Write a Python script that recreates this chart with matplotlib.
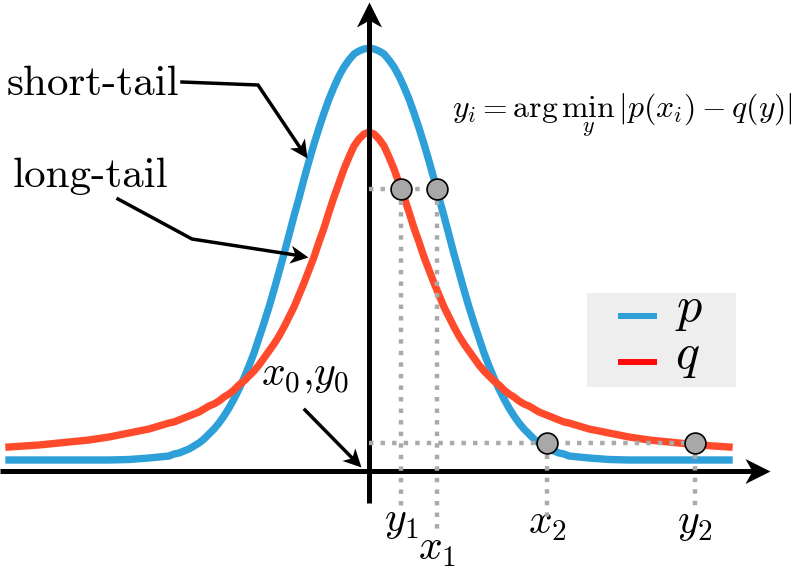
import numpy as np
import matplotlib
matplotlib.use("Agg")
import matplotlib.pyplot as plt
from matplotlib.markers import MarkerStyle
from matplotlib.patches import Rectangle
from matplotlib.path import Path
from matplotlib.transforms import Affine2D

plt.rcParams['mathtext.fontset'] = 'cm'

# curve samples, right half (both curves are symmetric
# about the vertical axis, so the left half is the mirror image)
x_half = [0.0, 0.05, 0.1, 0.15, 0.2, 0.25, 0.3, 0.35, 0.4, 0.45, 0.5, 0.55, 0.6, 0.65,
          0.7, 0.75, 0.8, 0.85, 0.9, 0.95, 1.0, 1.05, 1.1, 1.15, 1.2, 1.25, 1.3, 1.35,
          1.4, 1.45, 1.5, 1.55, 1.6, 1.65, 1.7, 1.75, 1.8, 1.85, 1.9, 1.95, 2.0, 2.1,
          2.2, 2.4, 2.6, 2.8, 3.0, 3.3, 3.6]
# p: short-tail
p_half = [4.23, 4.22, 4.20, 4.17, 4.11, 4.04, 3.95, 3.84, 3.72, 3.58, 3.43, 3.27, 3.10,
          2.92, 2.73, 2.55, 2.36, 2.17, 1.99, 1.81, 1.64, 1.48, 1.33, 1.18, 1.05, 0.93,
          0.82, 0.72, 0.63, 0.55, 0.48, 0.42, 0.37, 0.32, 0.28, 0.25, 0.22, 0.20, 0.18,
          0.17, 0.15, 0.14, 0.13, 0.115, 0.11, 0.11, 0.11, 0.11, 0.11]
# q: long-tail
q_half = [3.39, 3.37, 3.32, 3.25, 3.14, 3.02, 2.88, 2.74, 2.59, 2.43, 2.29, 2.14, 2.01,
          1.88, 1.76, 1.64, 1.54, 1.44, 1.35, 1.27, 1.20, 1.13, 1.06, 1.00, 0.95, 0.90,
          0.86, 0.81, 0.77, 0.74, 0.70, 0.67, 0.65, 0.62, 0.59, 0.57, 0.55, 0.53, 0.51,
          0.49, 0.48, 0.45, 0.42, 0.38, 0.34, 0.31, 0.29, 0.26, 0.24]

# matched points (y1, x1, x2, y2)
pt_x = [0.32, 0.68, 1.78, 3.26]
pt_y = [2.82, 2.82, 0.28, 0.28]
pt_labels = ['$y_1$', '$x_1$', '$x_2$', '$y_2$']
pt_label_y = [-0.49, -0.77, -0.51, -0.51]
guide_bottom = [-0.37, -0.60, -0.53, -0.41]

blue = '#2d9fd9'
red = '#ff4b2b'
gray = '#aaaaaa'

x = np.concatenate([-np.array(x_half[:0:-1]), x_half])
p_vals = np.concatenate([p_half[:0:-1], p_half])
q_vals = np.concatenate([q_half[:0:-1], q_half])


def stealth(ax, tip, prev, size, z=6):
    # concave arrow head at tip, pointing away from prev
    ang = np.degrees(np.arctan2(tip[1] - prev[1], tip[0] - prev[0]))
    path = Path([(0, 0), (-1, 0.5), (-0.72, 0), (-1, -0.5), (0, 0)],
                [Path.MOVETO, Path.LINETO, Path.LINETO, Path.LINETO, Path.CLOSEPOLY])
    m = MarkerStyle(path, transform=Affine2D().rotate_deg(ang))
    ax.plot([tip[0]], [tip[1]], marker=m, markersize=size, color='k',
            markeredgewidth=0, zorder=z)


fig = plt.figure(figsize=(8, 5.69), dpi=100)
ax = fig.add_axes([0, 0, 1, 1])
ax.set_xlim(-3.69, 4.31)
ax.set_ylim(-0.98, 4.71)
ax.axis('off')

ax.plot(x, p_vals, color=blue, lw=5.3, solid_joinstyle='round', zorder=2)
ax.plot(x, q_vals, color=red, lw=5.3, solid_joinstyle='round', zorder=3)

# axes with arrows
ax.plot([0, 0], [-0.32, 4.55], color='k', lw=3.6, solid_capstyle='butt', zorder=4)
stealth(ax, (0, 4.69), (0, 0), 36, z=4)
ax.plot([-3.69, 3.88], [0, 0], color='k', lw=3.6, solid_capstyle='butt', zorder=4)
stealth(ax, (4.01, 0), (0, 0), 36, z=4)

# dotted guides
dots = dict(color=gray, lw=3.2, linestyle=(0, (1, 1.6)), dash_capstyle='butt', zorder=5)
ax.plot([0, pt_x[1]], [pt_y[1], pt_y[1]], **dots)
ax.plot([0, pt_x[3]], [pt_y[3], pt_y[3]], **dots)
for i in range(len(pt_x)):
    ax.plot([pt_x[i], pt_x[i]], [pt_y[i], guide_bottom[i]], **dots)
    ax.text(pt_x[i], pt_label_y[i], pt_labels[i], fontsize=30, ha='center', va='center')

ax.scatter(pt_x, pt_y, s=15**2, color='#a8a8a8', edgecolor='k', linewidth=1.2, zorder=6)

# annotations
arrows = [
    ([-1.87, -1.11, -0.62], [3.89, 3.86, 3.13]),
    ([-2.51, -1.77, -0.61], [2.72, 2.32, 2.14]),
    ([-0.64, -0.08], [0.61, 0.04]),
]
for ax_x, ax_y in arrows:
    tip = (ax_x[-1], ax_y[-1])
    prev = (ax_x[-2], ax_y[-2])
    ang = np.arctan2(tip[1] - prev[1], tip[0] - prev[0])
    end_x = ax_x[:-1] + [tip[0] - 0.08 * np.cos(ang)]
    end_y = ax_y[:-1] + [tip[1] - 0.08 * np.sin(ang)]
    ax.plot(end_x, end_y, color='k', lw=2.5, solid_joinstyle='miter', zorder=6)
    stealth(ax, tip, prev, 26)

ax.text(-3.62, 3.76, 'short-tail', fontsize=31, family='cmr10', ha='left', va='baseline')
ax.text(-3.56, 2.84, 'long-tail', fontsize=31, family='cmr10', ha='left', va='baseline')
ax.text(-1.08, 0.86, '$x_0{,}y_0$', fontsize=30, ha='left', va='baseline')

ax.text(0.83, 3.54, r'$y_i = \arg\min_y\,|p(x_i\!) - q(y)|$', fontsize=22.8,
        ha='left', va='baseline')

# legend box
ax.add_patch(Rectangle((2.18, 0.84), 1.49, 0.94, facecolor='#eeeeee', edgecolor='none',
                       zorder=7))
ax.plot([2.49, 2.88], [1.55, 1.55], color=blue, lw=4.3, solid_capstyle='butt', zorder=8)
ax.plot([2.49, 2.88], [1.09, 1.09], color='#ff0a0a', lw=4.3, solid_capstyle='butt', zorder=8)
ax.text(3.06, 1.50, '$p$', fontsize=36, ha='left', va='baseline', zorder=8)
ax.text(3.06, 1.03, '$q$', fontsize=36, ha='left', va='baseline', zorder=8)

fig.savefig('out.png', dpi=100)
